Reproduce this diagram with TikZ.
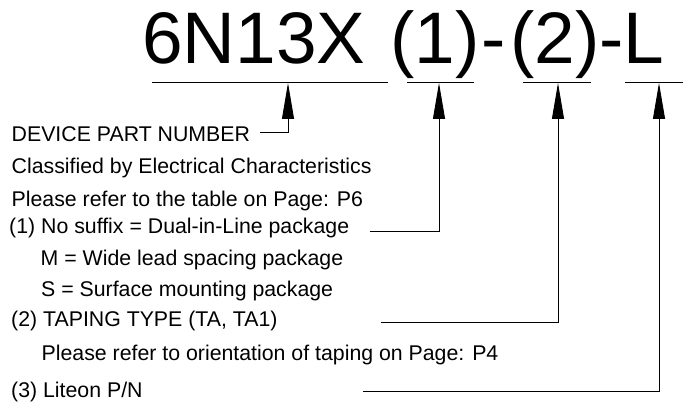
\documentclass[tikz,border=0pt]{standalone}
\usepackage{fontspec}
\setmainfont{Liberation Sans}
\usetikzlibrary{arrows.meta}
\begin{document}
\begin{tikzpicture}[x=1pt,y=-1pt,
  titletext/.style={font=\fontsize{73}{73}\selectfont, inner sep=0pt, anchor=base west},
  lbl/.style={font=\fontsize{21.3}{21.3}\selectfont, inner sep=0pt, anchor=base west},
  uline/.style={line width=0.9pt},
  arr/.style={line width=0.9pt, -{Triangle[length=36pt,width=12pt]}}]
\useasboundingbox (0,0) rectangle (683,403);
% title
\node[titletext] (t0) at (142,64) {6N13X};
\node[titletext] (t1) at (390,64) {(1)};
\node[titletext] (t2) at (481,64) {-};
\node[titletext] (t3) at (510,64) {(2)};
\node[titletext] (t4) at (599,64) {-L};
% underlines
\coordinate (u0a) at (152,82.5); \coordinate (u0b) at (388,82.5);
\coordinate (u1a) at (407,82.5); \coordinate (u1b) at (474,82.5);
\coordinate (u2a) at (523,82.5); \coordinate (u2b) at (591,82.5);
\coordinate (u3a) at (625,82.5); \coordinate (u3b) at (683,82.5);
\draw[uline] (u0a) -- (u0b);
\draw[uline] (u1a) -- (u1b);
\draw[uline] (u2a) -- (u2b);
\draw[uline] (u3a) -- (u3b);
% arrow tips
\coordinate (p0) at (288,83);
\coordinate (p1) at (439,83);
\coordinate (p2) at (558,83);
\coordinate (p3) at (659,83);
% texts
\node[lbl] (dev) at (11.5,142) {DEVICE PART NUMBER};
\node[lbl] (cls) at (11.5,174) {Classified by Electrical Characteristics};
\node[lbl] (tbl) at (11.5,207) {Please refer to the table on Page: P6};
\node[lbl] (s1) at (9,234) {(1) No suffix = Dual-in-Line package};
\node[lbl] (sm) at (40.5,266) {M = Wide lead spacing package};
\node[lbl] (ss) at (41,297) {S = Surface mounting package};
\node[lbl] (s2) at (11,327) {(2) TAPING TYPE (TA, TA1)};
\node[lbl] (tp) at (41.5,360) {Please refer to orientation of taping on Page: P4};
\node[lbl] (s3) at (11,397) {(3) Liteon P/N};
% connector starts
\coordinate (c0) at (260,132);
\coordinate (c1) at (370,231);
\coordinate (c2) at (381,322);
\coordinate (c3) at (363,391);
\draw[arr] (c0) -| (p0);
\draw[arr] (c1) -| (p1);
\draw[arr] (c2) -| (p2);
\draw[arr] (c3) -| (p3);
\end{tikzpicture}
\end{document}
